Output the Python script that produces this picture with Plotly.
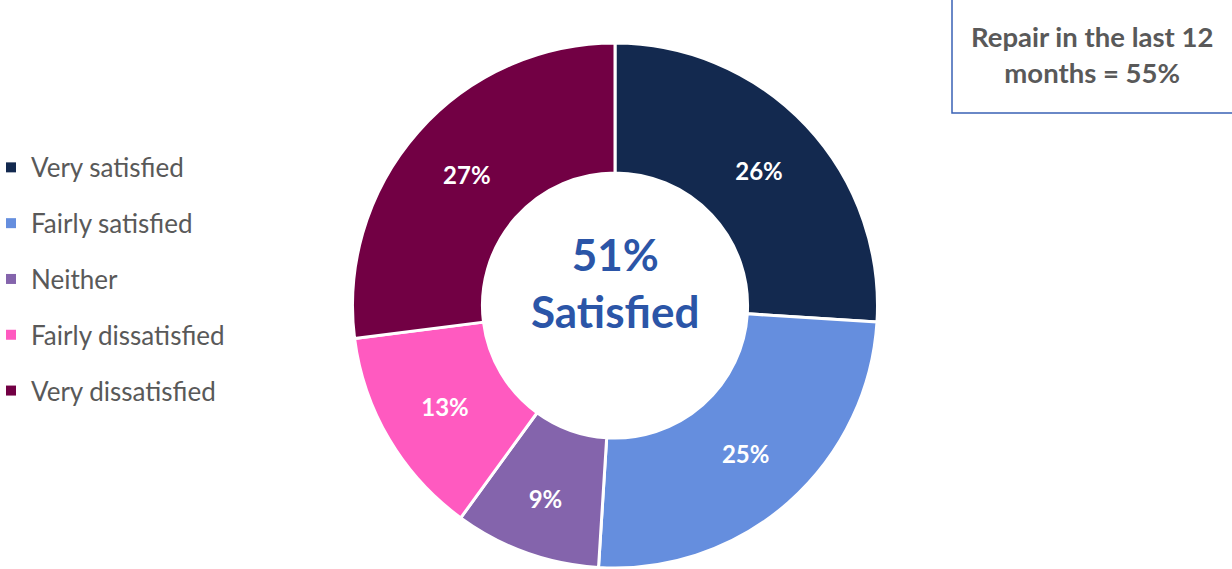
import plotly.graph_objects as go

# --- datos ---
categorias = ["Very satisfied", "Fairly satisfied", "Neither", "Fairly dissatisfied", "Very dissatisfied"]
valores = [26, 25, 9, 13, 27]
colores = ["#13294F", "#658EDE", "#8464AC", "#FF5AC0", "#720044"]
texto_centro = "51%<br>Satisfied"
texto_caja = "Repair in the last 12<br>months = 55%"

fig = go.Figure()

fig.add_trace(go.Pie(
    labels=categorias,
    values=valores,
    hole=0.505,
    sort=False,
    direction="clockwise",
    rotation=0,
    marker=dict(colors=colores, line=dict(color="white", width=3)),
    texttemplate="%{value}%",
    textposition="inside",
    insidetextorientation="horizontal",
    textfont=dict(family="Lato", size=24, color="white", weight="bold"),
    showlegend=False,
    hoverinfo="label+percent",
    domain=dict(x=[352 / 1232, 878 / 1232], y=[1 / 569, 526 / 569]),
))

# leyenda: una entrada por categoría, cada una en su grupo para poder separarlas
for cat, col in zip(categorias, colores):
    fig.add_trace(go.Scatter(
        x=[None], y=[None], mode="markers", name=cat, legendgroup=cat,
        marker=dict(symbol="square", size=10, color=col),
    ))

fig.update_layout(
    width=1232, height=569,
    margin=dict(l=0, r=0, t=0, b=0, autoexpand=False),
    paper_bgcolor="white",
    plot_bgcolor="white",
    xaxis=dict(visible=False),
    yaxis=dict(visible=False),
    legend=dict(
        x=-0.0073, xanchor="left", y=0.747, yanchor="top",
        font=dict(family="Lato", size=26, color="#595959"),
        tracegroupgap=19,
        itemwidth=30,
        bgcolor="rgba(0,0,0,0)",
    ),
    annotations=[
        dict(text=texto_centro, x=615 / 1232, y=(569 - 282) / 569, xref="paper", yref="paper",
             xanchor="center", yanchor="middle", showarrow=False, align="center",
             font=dict(family="Lato", size=44, color="#2B55A7", weight="bold")),
        dict(text=texto_caja, x=1092 / 1232, y=(569 - 55) / 569, xref="paper", yref="paper",
             xanchor="center", yanchor="middle", showarrow=False, align="center",
             font=dict(family="Lato", size=27.5, color="#595959", weight="bold")),
    ],
    shapes=[
        dict(type="rect", xref="paper", yref="paper",
             x0=952 / 1232, x1=1.01, y0=(569 - 113) / 569, y1=1.02,
             line=dict(color="#3A62B5", width=1.5), fillcolor="rgba(0,0,0,0)"),
    ],
)

fig.write_html("out.html", config={"displayModeBar": False},
               post_script="document.body.style.margin='0';")
